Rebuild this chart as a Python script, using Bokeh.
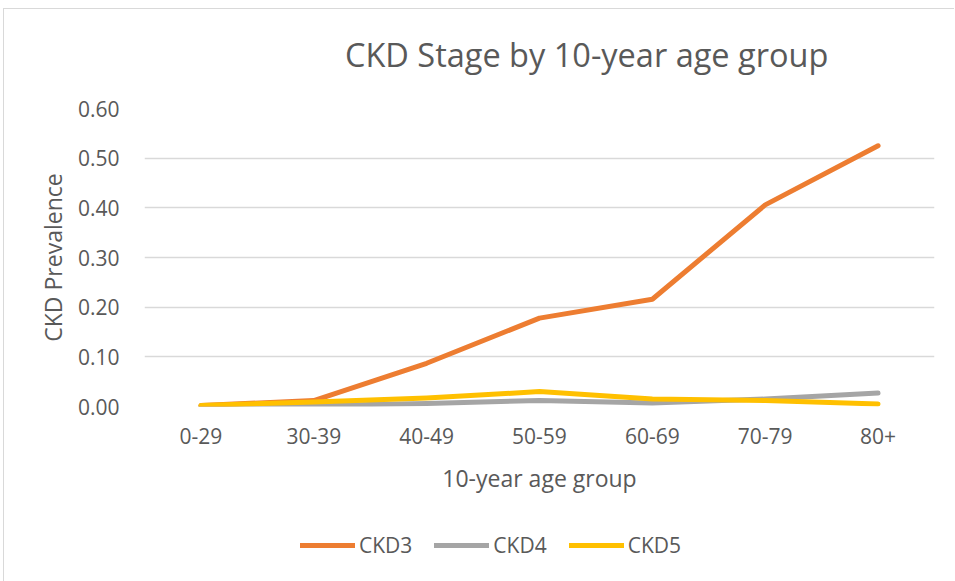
from bokeh.plotting import figure
from bokeh.layouts import column
from bokeh.models import Range1d, FixedTicker, Legend, LegendItem, NumeralTickFormatter, Label
from bokeh.embed import file_html
from bokeh.resources import INLINE

categories = ["0-29", "30-39", "40-49", "50-59", "60-69", "70-79", "80+"]
ckd3 = [0.002, 0.012, 0.087, 0.178, 0.216, 0.406, 0.525]
ckd4 = [0.001, 0.002, 0.006, 0.012, 0.007, 0.015, 0.027]
ckd5 = [0.002, 0.009, 0.017, 0.030, 0.015, 0.012, 0.005]
series_names = ["CKD3", "CKD4", "CKD5"]
series_colors = ["#ED7D31", "#A5A5A5", "#FFC000"]
series_values = [ckd3, ckd4, ckd5]
y_ticks = [0.0, 0.1, 0.2, 0.3, 0.4, 0.5, 0.6]
title_text = "CKD Stage by 10-year age group"

FONT = "Open Sans"
TXT = "#595959"

# title strip (no axes, so the frame fills the strip)
tf = figure(width=950, height=84, x_range=Range1d(0, 950), y_range=Range1d(0, 84),
            x_axis_location=None, y_axis_location=None,
            min_border=0, output_backend="svg", toolbar_location=None)
tf.grid.grid_line_color = None
tf.outline_line_color = None
tf.add_layout(Label(x=241, y=39, text=title_text, text_align="left", text_baseline="middle",
                    text_font=FONT, text_font_size="32.5px", text_color=TXT))

p = figure(x_range=categories, y_range=Range1d(0, 0.6),
           frame_width=790, frame_height=298,
           min_border_left=140, min_border_right=20, min_border_top=15, min_border_bottom=100,
           output_backend="svg", toolbar_location=None)

p.outline_line_color = None
p.xgrid.grid_line_color = None
p.ygrid.grid_line_color = "#d9d9d9"
p.ygrid.grid_line_width = 1.5
p.yaxis.ticker = FixedTicker(ticks=y_ticks)
p.yaxis.formatter = NumeralTickFormatter(format="0.00")

for ax in (p.xaxis[0], p.yaxis[0]):
    ax.axis_line_color = None
    ax.major_tick_line_color = None
    ax.minor_tick_line_color = None
    ax.major_tick_out = 0
    ax.major_tick_in = 0
    ax.major_label_text_font = FONT
    ax.major_label_text_font_size = "21px"
    ax.major_label_text_color = TXT
    ax.axis_label_text_font = FONT
    ax.axis_label_text_font_size = "23px"
    ax.axis_label_text_font_style = "normal"
    ax.axis_label_text_color = TXT

p.yaxis.major_label_standoff = 25
p.xaxis.major_label_standoff = 21
p.xaxis.axis_label = "10-year age group"
p.yaxis.axis_label = "CKD Prevalence"
p.xaxis.axis_label_standoff = 15
p.yaxis.axis_label_standoff = 6

for vals, c in zip(series_values, series_colors):
    p.line(categories, vals, line_color=c, line_width=5, line_cap="round", line_join="round")

# legend strip below the chart (series drawn out of view; only the legend shows)
lg = figure(width=950, height=75, x_range=categories, y_range=Range1d(10, 11),
            min_border=0, output_backend="svg", toolbar_location=None)
lg.axis.visible = False
lg.grid.grid_line_color = None
lg.outline_line_color = None
items = []
for name, vals, c in zip(series_names, series_values, series_colors):
    r = lg.line(categories, vals, line_color=c, line_width=5, line_cap="round")
    items.append(LegendItem(label=name, renderers=[r]))
legend = Legend(items=items, orientation="horizontal", location=(156, 22),
                border_line_color=None, background_fill_alpha=0,
                label_text_font=FONT, label_text_font_size="21px", label_text_color=TXT,
                glyph_width=55, label_standoff=4, spacing=22, padding=5)
lg.add_layout(legend, "center")

layout = column(tf, p, lg, spacing=0)
layout.styles = {"margin-left": "3px", "margin-top": "8px",
                 "border-left": "1px solid #d9d9d9", "border-top": "1px solid #d9d9d9"}

open("out.html", "w").write(file_html(layout, INLINE))
